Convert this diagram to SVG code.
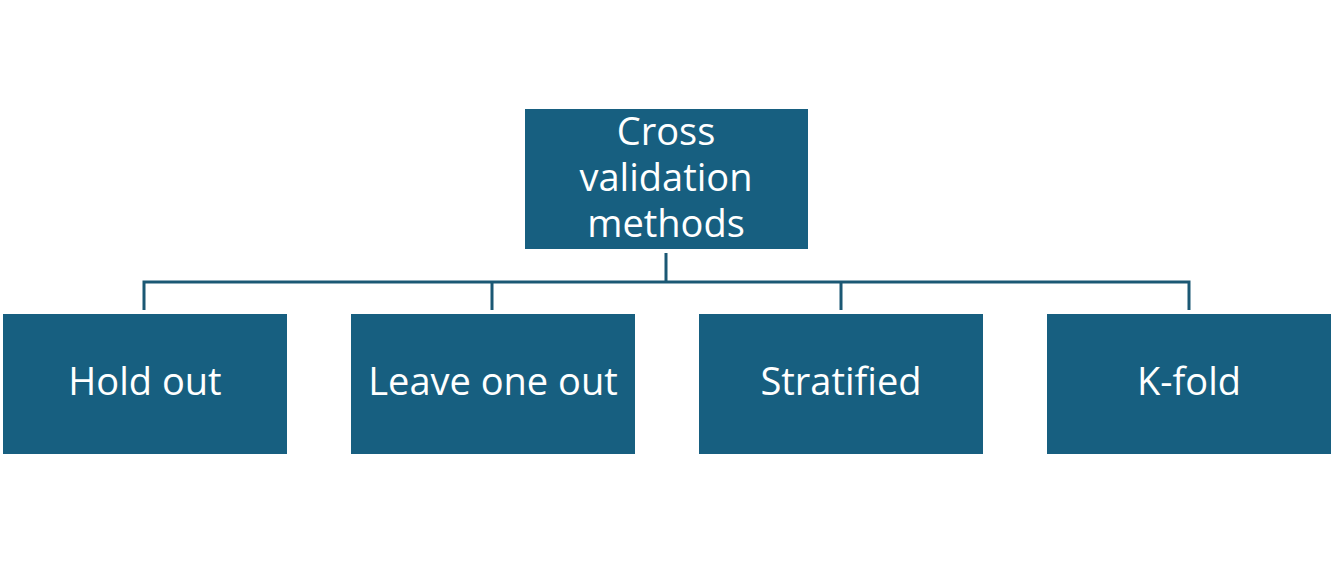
<svg xmlns="http://www.w3.org/2000/svg" width="1334" height="563" viewBox="0 0 1334 563">
<style>
.box{fill:#175F80}
.t{fill:#ffffff;font-family:"Open Sans","Liberation Sans",sans-serif;font-size:38px;text-anchor:middle}
.c{fill:none;stroke:#1B5874;stroke-width:3}
</style>
<rect width="1334" height="563" fill="#ffffff"/>
<g id="connectors">
<path class="c" d="M666,253 V282 M144,310 V282 H1189 V310 M492,282 V310 M841,282 V310"/>
</g>
<g id="root">
<rect class="box" x="525" y="109" width="283" height="140"/>
<text class="t" x="666" y="145">Cross</text>
<text class="t" x="666" y="191">validation</text>
<text class="t" x="666" y="237">methods</text>
</g>
<g id="holdout">
<rect class="box" x="3" y="314" width="284" height="140"/>
<text class="t" x="145" y="395">Hold out</text>
</g>
<g id="leaveoneout">
<rect class="box" x="351" y="314" width="284" height="140"/>
<text class="t" x="493" y="395">Leave one out</text>
</g>
<g id="stratified">
<rect class="box" x="699" y="314" width="284" height="140"/>
<text class="t" x="841" y="395">Stratified</text>
</g>
<g id="kfold">
<rect class="box" x="1047" y="314" width="284" height="140"/>
<text class="t" x="1189" y="395">K-fold</text>
</g>
</svg>
